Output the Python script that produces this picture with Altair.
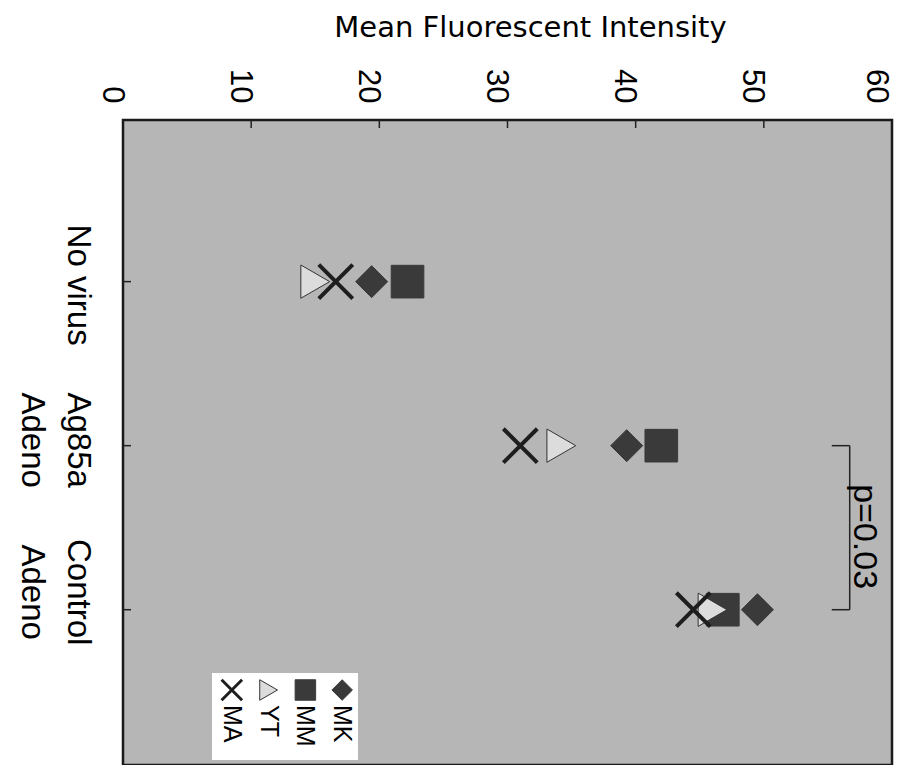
import altair as alt
import pandas as pd

# ---- data ----
categories = ["No virus", "Ag85a Adeno", "Control Adeno"]
series = ["MK", "MM", "YT", "MA"]
MK = [19.4, 39.3, 49.5]
MM = [22.2, 42.0, 46.8]
YT = [15.0, 34.2, 46.0]
MA = [16.6, 31.0, 44.5]
x_ticks = [0, 10, 20, 30, 40, 50, 60]
p_label = "p=0.03"
p_pair = ["Ag85a Adeno", "Control Adeno"]

values = {"MK": MK, "MM": MM, "YT": YT, "MA": MA}
rows = []
for s in series:
    for c, v in zip(categories, values[s]):
        rows.append({"series": s, "category": c, "value": v})
df = pd.DataFrame(rows)

FONT = "Liberation Sans"
DARK = "#3a3a3a"

x_scale = alt.Scale(domain=[0, 60], nice=False, zero=True)
y_scale = alt.Scale(type="point", padding=0.966, align=0.51)

shape_scale = alt.Scale(domain=series, range=["diamond", "square", "triangle-right",
                                              "M-1,-1L1,1M-1,1L1,-1"])
fill_scale = alt.Scale(domain=series, range=[DARK, DARK, "#dcdcdc", "transparent"])
stroke_scale = alt.Scale(domain=series, range=[DARK, DARK, "#333333", "#1e1e1e"])
size_scale = alt.Scale(domain=series, range=[1024, 1150, 900, 600])
stroke_w = alt.condition("datum.series == 'MA'", alt.value(4), alt.value(1))

top_axis = alt.Axis(
    orient="top", values=x_ticks, labelAngle=90, labelAlign="right",
    labelBaseline="middle",
    labelOffset={"condition": [{"test": "datum.value == 60", "value": -17}],
                 "value": -12},
    labelPadding=17, ticks=False,
    domain=False, grid=False, labelFont=FONT, labelFontSize=31,
    labelColor="black", labelFlush=False, labelOverlap=False,
    title="Mean Fluorescent Intensity", titleFont="DejaVu Sans",
    titleFontSize=29, titleFontWeight="normal", titleColor="black",
    titleAngle=0, titleY=-84, titleX=407, titleBaseline="alphabetic",
    titleAlign="center",
)
left_axis = alt.Axis(
    orient="left", labelAngle=90, labelAlign="center", labelBaseline="top",
    labelPadding=30, ticks=False, domain=False, grid=False, title=None,
    labelFont=FONT, labelFontSize=33, labelColor="black", labelLineHeight=46,
    labelOffset={"condition": [
        {"test": "datum.value == 'Control Adeno'", "value": -18},
        {"test": "datum.value == 'Ag85a Adeno'", "value": -6}],
        "value": 3},
    labelExpr="indexof(datum.label, 'Adeno') > 0 ? split(datum.label, ' ') : datum.label",
)

points = alt.Chart(df).mark_point(filled=True, opacity=1).encode(
    x=alt.X("value:Q", scale=x_scale, axis=top_axis),
    y=alt.Y("category:N", sort=categories, scale=y_scale, axis=left_axis),
    shape=alt.Shape("series:N", scale=shape_scale, legend=None),
    fill=alt.Fill("series:N", scale=fill_scale, legend=None),
    stroke=alt.Stroke("series:N", scale=stroke_scale, legend=None),
    strokeWidth=stroke_w,
    size=alt.Size("series:N", scale=size_scale, legend=None),
)

# inward ticks on the axes
tick_df = pd.DataFrame({"value": x_ticks[1:-1]})
top_ticks = alt.Chart(tick_df).mark_rule(color="#222222", strokeWidth=1.5).encode(
    x="value:Q", y=alt.value(0), y2=alt.value(8)
)
cat_df = pd.DataFrame({"category": categories})
left_ticks = alt.Chart(cat_df).mark_rule(color="#222222", strokeWidth=1.5).encode(
    y=alt.Y("category:N", sort=categories), x=alt.value(0), x2=alt.value(8)
)

# significance bracket
br_x, br_end = 56.7, 55.3
bracket_v = alt.Chart(pd.DataFrame({"value": [br_x], "category": [p_pair[0]],
                                    "category2": [p_pair[1]]})).mark_rule(
    color="#222222", strokeWidth=1.5).encode(
    x="value:Q", y=alt.Y("category:N", sort=categories), y2="category2:N")
bracket_h = alt.Chart(pd.DataFrame({"value": [br_end, br_end], "value2": [br_x, br_x],
                                    "category": p_pair})).mark_rule(
    color="#222222", strokeWidth=1.5).encode(
    x="value:Q", x2="value2:Q", y=alt.Y("category:N", sort=categories))
p_text = alt.Chart(pd.DataFrame({"value": [57.8], "category": [p_pair[0]],
                                 "label": [p_label]})).mark_text(
    angle=90, align="center", baseline="middle", dx=91, font=FONT,
    fontSize=34, color="black").encode(
    x="value:Q", y=alt.Y("category:N", sort=categories), text="label:N")

# legend (rotated, inside plot)
leg_df = pd.DataFrame({"series": series})
leg_df["value"] = [17.1 - 2.87 * i for i in range(len(series))]
leg_box = alt.Chart(pd.DataFrame({"a": [0]})).mark_rect(fill="white").encode(
    x=alt.value(89), x2=alt.value(235), y=alt.value(553), y2=alt.value(640))
leg_marks = alt.Chart(leg_df).mark_point(filled=True, opacity=1).encode(
    x="value:Q", y=alt.value(570),
    shape=alt.Shape("series:N", scale=shape_scale, legend=None),
    fill=alt.Fill("series:N", scale=fill_scale, legend=None),
    stroke=alt.Stroke("series:N", scale=stroke_scale, legend=None),
    strokeWidth=alt.condition("datum.series == 'MA'", alt.value(3), alt.value(1)),
    size=alt.value(420),
)
leg_text = alt.Chart(leg_df).mark_text(
    angle=90, align="left", baseline="middle", font=FONT, fontSize=25,
    color="black").encode(x="value:Q", y=alt.value(585), text="series:N")

chart = alt.layer(
    points, top_ticks, left_ticks, bracket_v, bracket_h, p_text,
    leg_box, leg_marks, leg_text,
).properties(
    width=769, height=645,
    autosize=alt.AutoSizeParams(type="none"),
    padding={"left": 115, "top": 112, "right": 2, "bottom": 0},
    background="white",
).configure_view(fill="#b6b6b6", stroke="#1a1a1a", strokeWidth=2.5)

chart.save("out.html", embed_options={"renderer": "svg", "actions": False})
